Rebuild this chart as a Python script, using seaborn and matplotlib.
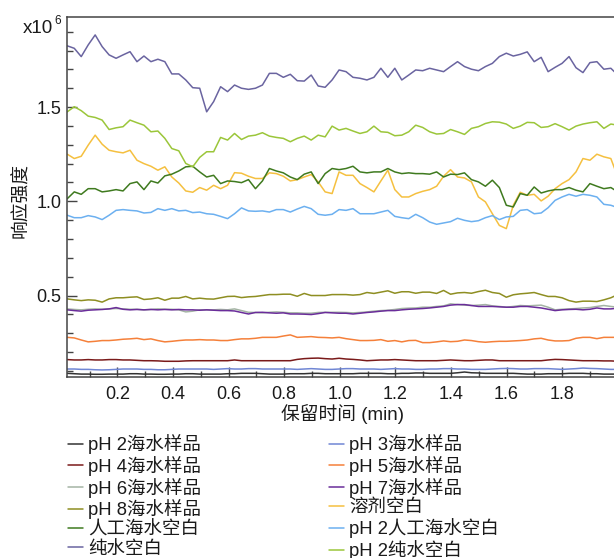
import numpy as np
import pandas as pd
import matplotlib
matplotlib.use("Agg")
import matplotlib.pyplot as plt
from matplotlib.ticker import MultipleLocator
import seaborn as sns

# Retention time samples (min), shared by all traces
time_min = np.linspace(0.02, 2.0, 80)

# Response intensity (x10^6) for each sample
ph2_sea = [0.087, 0.085, 0.083, 0.083, 0.082, 0.082, 0.083, 0.083, 0.083, 0.085,
           0.085, 0.083, 0.083, 0.082, 0.082, 0.083, 0.083, 0.085, 0.085, 0.083,
           0.083, 0.083, 0.083, 0.085, 0.085, 0.087, 0.087, 0.087, 0.085, 0.083,
           0.083, 0.083, 0.085, 0.085, 0.085, 0.087, 0.087, 0.085, 0.085, 0.085,
           0.085, 0.085, 0.087, 0.087, 0.087, 0.087, 0.085, 0.085, 0.087, 0.087,
           0.089, 0.089, 0.087, 0.087, 0.087, 0.087, 0.090, 0.094, 0.090, 0.089,
           0.087, 0.087, 0.087, 0.087, 0.087, 0.085, 0.083, 0.083, 0.083, 0.085,
           0.085, 0.085, 0.087, 0.087, 0.087, 0.085, 0.085, 0.083, 0.083, 0.083]
ph3_sea = [0.110, 0.110, 0.108, 0.108, 0.106, 0.105, 0.106, 0.108, 0.110, 0.110,
           0.110, 0.108, 0.108, 0.106, 0.106, 0.108, 0.110, 0.110, 0.110, 0.110,
           0.110, 0.108, 0.110, 0.112, 0.110, 0.110, 0.112, 0.112, 0.110, 0.110,
           0.110, 0.110, 0.110, 0.108, 0.110, 0.112, 0.110, 0.108, 0.108, 0.110,
           0.112, 0.112, 0.110, 0.110, 0.110, 0.108, 0.110, 0.112, 0.110, 0.110,
           0.108, 0.108, 0.110, 0.110, 0.112, 0.112, 0.110, 0.110, 0.108, 0.108,
           0.108, 0.110, 0.112, 0.113, 0.112, 0.110, 0.110, 0.112, 0.112, 0.112,
           0.110, 0.108, 0.110, 0.112, 0.115, 0.113, 0.112, 0.110, 0.108, 0.108]
ph4_sea = [0.160, 0.158, 0.158, 0.160, 0.158, 0.158, 0.160, 0.160, 0.158, 0.158,
           0.156, 0.154, 0.154, 0.153, 0.151, 0.151, 0.151, 0.153, 0.154, 0.154,
           0.154, 0.154, 0.154, 0.154, 0.158, 0.154, 0.154, 0.154, 0.154, 0.154,
           0.154, 0.154, 0.154, 0.161, 0.165, 0.167, 0.168, 0.165, 0.163, 0.167,
           0.163, 0.161, 0.158, 0.154, 0.156, 0.158, 0.158, 0.160, 0.158, 0.156,
           0.154, 0.154, 0.154, 0.154, 0.156, 0.158, 0.156, 0.154, 0.154, 0.156,
           0.158, 0.158, 0.154, 0.154, 0.154, 0.154, 0.154, 0.154, 0.154, 0.158,
           0.161, 0.160, 0.158, 0.156, 0.154, 0.154, 0.154, 0.153, 0.153, 0.151]
ph5_sea = [0.278, 0.275, 0.264, 0.254, 0.257, 0.261, 0.261, 0.264, 0.268, 0.270,
           0.273, 0.266, 0.270, 0.261, 0.254, 0.257, 0.261, 0.264, 0.264, 0.266,
           0.264, 0.264, 0.261, 0.261, 0.266, 0.270, 0.270, 0.273, 0.278, 0.278,
           0.278, 0.285, 0.291, 0.278, 0.280, 0.282, 0.278, 0.277, 0.275, 0.278,
           0.271, 0.266, 0.261, 0.261, 0.262, 0.266, 0.257, 0.261, 0.254, 0.261,
           0.262, 0.250, 0.250, 0.254, 0.259, 0.255, 0.257, 0.264, 0.261, 0.255,
           0.252, 0.255, 0.257, 0.257, 0.259, 0.261, 0.264, 0.270, 0.273, 0.264,
           0.259, 0.259, 0.261, 0.273, 0.278, 0.278, 0.271, 0.278, 0.278, 0.278]
ph6_sea = [0.429, 0.426, 0.424, 0.427, 0.429, 0.427, 0.429, 0.431, 0.429, 0.427,
           0.427, 0.424, 0.426, 0.429, 0.427, 0.427, 0.424, 0.413, 0.417, 0.424,
           0.424, 0.424, 0.426, 0.424, 0.429, 0.420, 0.411, 0.410, 0.408, 0.411,
           0.413, 0.411, 0.408, 0.408, 0.406, 0.406, 0.410, 0.411, 0.411, 0.411,
           0.410, 0.408, 0.410, 0.413, 0.417, 0.420, 0.422, 0.426, 0.431, 0.433,
           0.434, 0.438, 0.438, 0.442, 0.445, 0.456, 0.452, 0.449, 0.447, 0.449,
           0.452, 0.445, 0.442, 0.438, 0.442, 0.447, 0.445, 0.447, 0.449, 0.438,
           0.424, 0.427, 0.429, 0.431, 0.434, 0.436, 0.442, 0.447, 0.442, 0.438]
ph7_sea = [0.424, 0.420, 0.417, 0.422, 0.424, 0.426, 0.429, 0.436, 0.427, 0.424,
           0.426, 0.424, 0.426, 0.424, 0.426, 0.424, 0.426, 0.424, 0.424, 0.422,
           0.424, 0.422, 0.420, 0.420, 0.418, 0.410, 0.402, 0.410, 0.411, 0.408,
           0.406, 0.408, 0.402, 0.402, 0.401, 0.399, 0.404, 0.410, 0.408, 0.406,
           0.406, 0.402, 0.406, 0.410, 0.413, 0.417, 0.420, 0.420, 0.424, 0.427,
           0.429, 0.431, 0.434, 0.438, 0.442, 0.449, 0.452, 0.452, 0.447, 0.442,
           0.442, 0.442, 0.440, 0.438, 0.438, 0.442, 0.442, 0.438, 0.434, 0.427,
           0.420, 0.424, 0.426, 0.427, 0.424, 0.427, 0.434, 0.429, 0.429, 0.433]
ph8_sea = [0.482, 0.477, 0.473, 0.477, 0.475, 0.465, 0.482, 0.488, 0.488, 0.491,
           0.493, 0.479, 0.482, 0.488, 0.475, 0.486, 0.486, 0.495, 0.482, 0.486,
           0.482, 0.481, 0.488, 0.495, 0.496, 0.489, 0.493, 0.495, 0.500, 0.505,
           0.505, 0.507, 0.507, 0.496, 0.511, 0.500, 0.500, 0.500, 0.505, 0.505,
           0.505, 0.502, 0.505, 0.516, 0.511, 0.518, 0.525, 0.512, 0.520, 0.520,
           0.512, 0.518, 0.518, 0.511, 0.527, 0.507, 0.514, 0.516, 0.512, 0.521,
           0.528, 0.516, 0.511, 0.491, 0.504, 0.509, 0.512, 0.516, 0.505, 0.495,
           0.495, 0.488, 0.473, 0.465, 0.470, 0.470, 0.468, 0.477, 0.488, 0.505]
solvent_blank = [1.250, 1.227, 1.239, 1.298, 1.351, 1.303, 1.271, 1.263, 1.257, 1.271,
                 1.218, 1.200, 1.186, 1.165, 1.183, 1.129, 1.097, 1.055, 1.048, 1.073,
                 1.059, 1.085, 1.067, 1.085, 1.152, 1.149, 1.133, 1.121, 1.121, 1.151,
                 1.147, 1.133, 1.108, 1.115, 1.129, 1.142, 1.103, 1.050, 1.041, 1.156,
                 1.138, 1.138, 1.094, 1.073, 1.050, 1.108, 1.165, 1.062, 1.023, 1.023,
                 1.041, 1.053, 1.062, 1.080, 1.133, 1.168, 1.129, 1.124, 1.103, 1.023,
                 0.997, 0.934, 0.872, 0.855, 0.979, 1.048, 1.032, 1.037, 1.002, 1.027,
                 1.067, 1.094, 1.115, 1.156, 1.227, 1.218, 1.250, 1.236, 1.227, 1.129]
art_sea_blank = [1.014, 1.050, 1.037, 1.067, 1.067, 1.050, 1.055, 1.062, 1.055, 1.094,
                 1.103, 1.062, 1.108, 1.097, 1.135, 1.144, 1.161, 1.183, 1.186, 1.156,
                 1.129, 1.138, 1.094, 1.108, 1.105, 1.099, 1.115, 1.067, 1.108, 1.174,
                 1.161, 1.151, 1.129, 1.115, 1.144, 1.156, 1.094, 1.147, 1.174, 1.168,
                 1.174, 1.186, 1.156, 1.151, 1.156, 1.156, 1.174, 1.156, 1.147, 1.151,
                 1.147, 1.147, 1.144, 1.156, 1.129, 1.144, 1.142, 1.151, 1.115, 1.103,
                 1.080, 1.112, 1.073, 0.979, 0.970, 1.041, 1.032, 1.076, 1.044, 1.055,
                 1.062, 1.062, 1.073, 1.059, 1.050, 1.094, 1.080, 1.067, 1.073, 1.050]
ph2_art_sea_blank = [0.926, 0.913, 0.913, 0.924, 0.917, 0.903, 0.926, 0.952, 0.956, 0.952,
                     0.949, 0.938, 0.941, 0.961, 0.952, 0.961, 0.949, 0.952, 0.940, 0.943,
                     0.934, 0.931, 0.920, 0.908, 0.934, 0.965, 0.949, 0.947, 0.949, 0.943,
                     0.956, 0.956, 0.943, 0.959, 0.973, 0.961, 0.931, 0.926, 0.931, 0.956,
                     0.952, 0.961, 0.934, 0.934, 0.934, 0.943, 0.952, 0.920, 0.913, 0.908,
                     0.931, 0.913, 0.890, 0.878, 0.885, 0.892, 0.910, 0.899, 0.892, 0.897,
                     0.913, 0.924, 0.903, 0.917, 0.920, 0.952, 0.956, 0.934, 0.938, 0.966,
                     1.005, 1.023, 1.037, 1.027, 1.037, 1.032, 1.023, 0.984, 0.979, 0.966]
pure_water_blank = [1.825, 1.812, 1.768, 1.830, 1.883, 1.821, 1.777, 1.759, 1.777, 1.794,
                    1.741, 1.771, 1.741, 1.754, 1.741, 1.676, 1.676, 1.644, 1.603, 1.600,
                    1.475, 1.529, 1.608, 1.582, 1.617, 1.600, 1.594, 1.600, 1.617, 1.679,
                    1.679, 1.658, 1.674, 1.640, 1.638, 1.670, 1.612, 1.605, 1.644, 1.697,
                    1.688, 1.658, 1.653, 1.644, 1.658, 1.706, 1.658, 1.706, 1.644, 1.670,
                    1.697, 1.693, 1.706, 1.697, 1.688, 1.715, 1.741, 1.715, 1.701, 1.693,
                    1.715, 1.732, 1.768, 1.786, 1.771, 1.780, 1.793, 1.741, 1.764, 1.688,
                    1.711, 1.732, 1.768, 1.709, 1.683, 1.736, 1.741, 1.701, 1.706, 1.670]
ph2_pure_water_blank = [1.475, 1.502, 1.481, 1.452, 1.445, 1.431, 1.381, 1.390, 1.396, 1.431,
                        1.417, 1.404, 1.369, 1.373, 1.334, 1.280, 1.268, 1.201, 1.183, 1.233,
                        1.263, 1.263, 1.339, 1.325, 1.360, 1.328, 1.346, 1.351, 1.364, 1.346,
                        1.339, 1.334, 1.316, 1.334, 1.346, 1.325, 1.351, 1.342, 1.399, 1.378,
                        1.387, 1.373, 1.360, 1.369, 1.399, 1.369, 1.366, 1.348, 1.351, 1.369,
                        1.404, 1.392, 1.369, 1.357, 1.360, 1.381, 1.369, 1.355, 1.387, 1.396,
                        1.413, 1.422, 1.420, 1.410, 1.387, 1.399, 1.419, 1.417, 1.392, 1.396,
                        1.412, 1.396, 1.378, 1.399, 1.410, 1.417, 1.422, 1.387, 1.410, 1.404]

series_names = ["pH 2海水样品", "pH 3海水样品", "pH 4海水样品", "pH 5海水样品",
                "pH 6海水样品", "pH 7海水样品", "pH 8海水样品", "溶剂空白",
                "人工海水空白", "pH 2人工海水空白", "纯水空白", "pH 2纯水空白"]
series_values = [ph2_sea, ph3_sea, ph4_sea, ph5_sea, ph6_sea, ph7_sea, ph8_sea,
                 solvent_blank, art_sea_blank, ph2_art_sea_blank,
                 pure_water_blank, ph2_pure_water_blank]
series_colors = ["#333333", "#7086d4", "#7a1a1a", "#f5803a", "#a4b4a4", "#6a2d9a",
                 "#8e8e22", "#f5c040", "#3f7a1f", "#6cb0f0", "#6a64a0", "#9bc63a"]

df = pd.concat(
    [pd.DataFrame({"time": time_min, "value": vals, "sample": name})
     for name, vals in zip(series_names, series_values)],
    ignore_index=True,
)

sns.set_style("white")
plt.rcParams["font.family"] = ["Liberation Sans", "Noto Sans CJK SC"]
plt.rcParams["axes.unicode_minus"] = False

fig = plt.figure(figsize=(6.14, 5.58), dpi=100)
ax = fig.add_axes([0.1096, 0.3235, 0.8966, 0.646])

sns.lineplot(data=df, x="time", y="value", hue="sample", hue_order=series_names,
             palette=dict(zip(series_names, series_colors)), linewidth=1.1,
             estimator=None, sort=False, ax=ax, legend=True)

ax.set_xlim(0.02, 2.0)
ax.set_ylim(0.065, 1.978)

text_color = "#1a1a1a"
spine_color = "#444444"
for side in ["left", "bottom", "top", "right"]:
    ax.spines[side].set_color(spine_color)
    ax.spines[side].set_linewidth(1.1)

ax.xaxis.set_major_locator(MultipleLocator(0.2))
ax.xaxis.set_minor_locator(MultipleLocator(0.1))
ax.yaxis.set_major_locator(MultipleLocator(0.5))
ax.yaxis.set_minor_locator(MultipleLocator(0.1))
ax.tick_params(which="both", direction="in", colors=spine_color, labelcolor=text_color,
               bottom=True, left=True, top=False, right=False, labelsize=13, width=1.0)
ax.tick_params(axis="x", which="major", length=7, pad=6)
ax.tick_params(axis="y", which="major", length=7, pad=4)
ax.tick_params(which="minor", length=4)
ax.set_xticks([0.2, 0.4, 0.6, 0.8, 1.0, 1.2, 1.4, 1.6, 1.8])
ax.set_xticklabels(["0.2", "0.4", "0.6", "0.8", "1.0", "1.2", "1.4", "1.6", "1.8"])
ax.set_yticks([0.5, 1.0, 1.5])
ax.set_yticklabels(["0.5", "1.0", "1.5"])

ax.set_xlabel("保留时间 (min)", fontsize=13.5, color=text_color, labelpad=1)
ax.set_ylabel("")
fig.text(21 / 614, 1 - 201 / 558, "响应强度", rotation=90, ha="center", va="center",
         fontsize=13.5, color=text_color)

# Scale factor above the y axis
fig.text(53 / 614, 1 - 33 / 558, "x10", ha="right", va="baseline",
         fontsize=13.5, color=text_color)
fig.text(54 / 614, 1 - 24 / 558, "6", ha="left", va="baseline",
         fontsize=8.5, color=text_color)

# Legend: two columns, filled row by row
handles, labels = ax.get_legend_handles_labels()
ax.get_legend().remove()
lookup = dict(zip(labels, handles))
left_col = series_names[0::2]
right_col = series_names[1::2]
order = left_col + right_col
fig.legend([lookup[n] for n in order], order, ncol=2, frameon=False,
           loc="upper left", bbox_to_anchor=(68 / 614, 1 - 434 / 558),
           fontsize=13.3, handlelength=0.8, handletextpad=0.3,
           columnspacing=6.9, labelspacing=0.1, borderpad=0, borderaxespad=0,
           labelcolor=text_color)

fig.savefig("out.png", dpi=100)
